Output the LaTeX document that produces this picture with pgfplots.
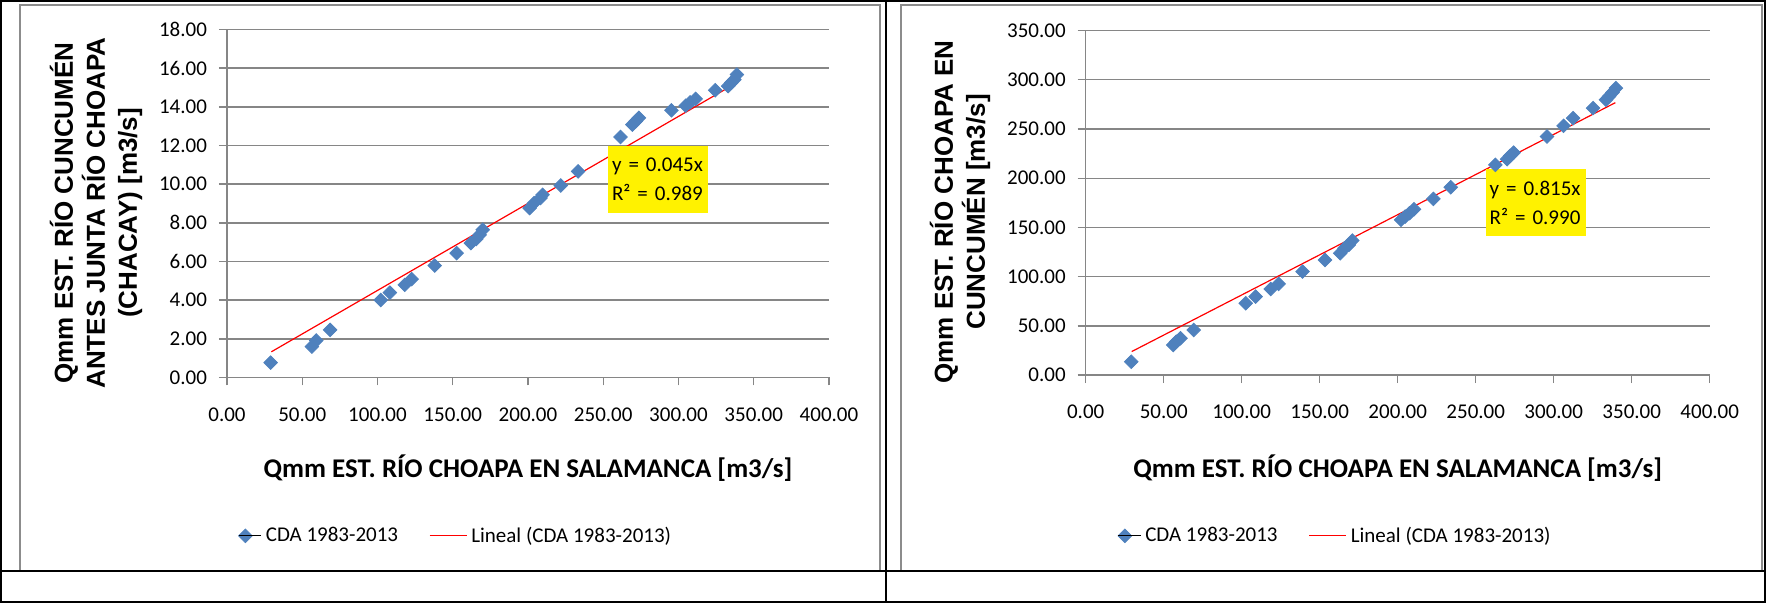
\documentclass[border=0pt]{standalone}
\usepackage{fontspec}
\setmainfont{Carlito}
\newfontfamily\arialfont{Liberation Sans}
\usepackage{pgfplots}
\pgfplotsset{compat=1.18}
\definecolor{mk}{HTML}{4F81BD}
\definecolor{gr}{HTML}{868686}
\definecolor{chartframe}{HTML}{8C8C8C}

\pgfplotsset{common/.style={
  scale only axis,
  xmin=0, xmax=400, xtick={0,50,...,400}, ymin=0,
  axis x line*=bottom, axis y line*=left,
  axis line style={gr, line width=0.7pt, -},
  ymajorgrids, grid style={gr, line width=0.7pt},
  tick align=outside, major tick length=4pt,
  tick style={gr, line width=0.7pt},
  ticklabel style={font=\fontsize{10.5}{12}\selectfont, text=black},
  yticklabel style={xshift=-2.5pt},
  xticklabel style={yshift=-7.5pt},
  /pgf/number format/fixed,
  /pgf/number format/fixed zerofill,
  /pgf/number format/precision=2,
  /pgf/number format/1000 sep={},
  /pgf/number format/assume math mode=true,
  xlabel style={font=\bfseries\fontsize{13.5}{16}\selectfont, anchor=center},
  ylabel style={font=\arialfont\bfseries\fontsize{13}{16}\selectfont, align=center, anchor=center},
  xlabel={Qmm EST. RÍO CHOAPA EN SALAMANCA [m3/s]},
  legend style={draw=none, fill=none, legend columns=2, anchor=west,
    font=\fontsize{10.5}{12}\selectfont,
    /tikz/every even column/.append style={column sep=13.5pt}},
  legend cell align=left,
  scatterstyle/.style={only marks, mark=square*, mark size=2.4pt,
    mark options={rotate=45, fill=mk, draw=mk},
    legend image code/.code={
      \draw[mark=square*, mark size=2.4pt, mark options={rotate=45, fill=mk, draw=mk}] plot coordinates {(0pt,0pt)};
      \path (-3.4pt,0pt) -- (8pt,0pt);}},
  trendstyle/.style={red, line width=0.6pt,
    legend image code/.code={\draw[red, line width=0.6pt] (0pt,0pt) -- (18.5pt,0pt);}},
}}

\begin{document}
\begin{tikzpicture}
\useasboundingbox (0pt,0pt) rectangle (883pt,301.5pt);
% chart area frames
\draw[chartframe, line width=0.75pt] (10pt,16pt) -- (10pt,299pt) -- (440pt,299pt) -- (440pt,16pt);
\draw[chartframe, line width=0.75pt] (450.5pt,16pt) -- (450.5pt,299pt) -- (881pt,299pt) -- (881pt,16pt);

% Left chart
\begin{axis}[common,
  at={(113.5pt,112.75pt)}, anchor=south west,
  width=301pt, height=174pt,
  ymax=18, ytick={0,2,...,18},
  xlabel style={at={(axis description cs:0.5,-0.26)}},
  ylabel style={at={(axis description cs:-0.2176,0.4727)}},
  ylabel={Qmm EST. RÍO CUNCUMÉN\\ANTES JUNTA RÍO CHOAPA\\(CHACAY) [m3/s]},
  legend style={at={(0.008,-0.455)}},
]
\addplot[scatterstyle] coordinates {
(29.0,0.77) (56.4,1.60) (59.3,1.91) (68.5,2.46) (102.2,4.01) (108.2,4.39)
(118.1,4.79) (122.7,5.09) (138.0,5.79) (152.6,6.43) (162.1,6.95) (165.6,7.16)
(167.9,7.38) (169.9,7.64) (201.1,8.76) (204.0,9.02) (208.3,9.28) (209.7,9.45)
(221.8,9.93) (233.3,10.66) (261.5,12.44) (269.4,13.08) (271.6,13.25) (273.7,13.43)
(295.3,13.82) (304.8,14.06) (307.7,14.23) (311.4,14.41) (324.4,14.86) (333.0,15.07)
(335.1,15.25) (337.1,15.41) (338.8,15.67)
};
\addlegendentry{CDA 1983-2013}
\addplot[trendstyle] coordinates {(29.5,1.33) (339,15.26)};
\addlegendentry{Lineal (CDA 1983-2013)}
\node[fill=yellow, text width=46pt, align=left, inner xsep=2pt, minimum height=33.5pt,
  font=\fontsize{10.5}{14.5}\selectfont] at (rel axis cs:0.716,0.569) {y = 0.045x\\R² = 0.989};
\end{axis}

% Right chart
\begin{axis}[common,
  at={(542.85pt,113.9pt)}, anchor=south west,
  width=312pt, height=172.35pt,
  ymax=350, ytick={0,50,...,350},
  xlabel style={at={(axis description cs:0.5,-0.269)}},
  ylabel style={at={(axis description cs:-0.2014,0.4735)}},
  ylabel={Qmm EST. RÍO CHOAPA EN\\CUNCUMÉN [m3/s]},
  legend style={at={(0.041,-0.466)}},
]
\addplot[scatterstyle] coordinates {
(29.2,13.7) (56.1,30.7) (58.0,34.0) (60.8,37.5) (69.2,45.9) (102.6,73.0)
(108.9,79.8) (118.6,87.6) (123.7,92.7) (139.0,105.2) (153.4,117.0) (163.1,123.8)
(165.9,128.9) (168.7,132.3) (170.9,136.7) (202.1,157.7) (204.8,161.0) (207.6,164.5)
(210.4,168.5) (222.9,179.0) (234.0,190.9) (262.6,213.6) (270.1,219.3) (272.1,222.7)
(274.3,226.0) (295.7,242.3) (306.3,253.2) (312.4,261.0) (325.2,271.2) (333.5,279.6)
(335.5,283.0) (337.7,287.0) (339.9,291.5)
};
\addlegendentry{CDA 1983-2013}
\addplot[trendstyle] coordinates {(29.5,24.0) (339.5,276.7)};
\addlegendentry{Lineal (CDA 1983-2013)}
\node[fill=yellow, text width=46pt, align=left, inner xsep=2pt, minimum height=33.5pt,
  font=\fontsize{10.5}{14.5}\selectfont] at (rel axis cs:0.721,0.501) {y = 0.815x\\R² = 0.990};
\end{axis}

% table borders
\draw[black, line width=1pt] (0.5pt,0.5pt) rectangle (882.5pt,301pt);
\draw[black, line width=1pt] (443pt,0.5pt) -- (443pt,301pt);
\draw[black, line width=1pt] (0.5pt,16pt) -- (882.5pt,16pt);
\end{tikzpicture}
\end{document}
